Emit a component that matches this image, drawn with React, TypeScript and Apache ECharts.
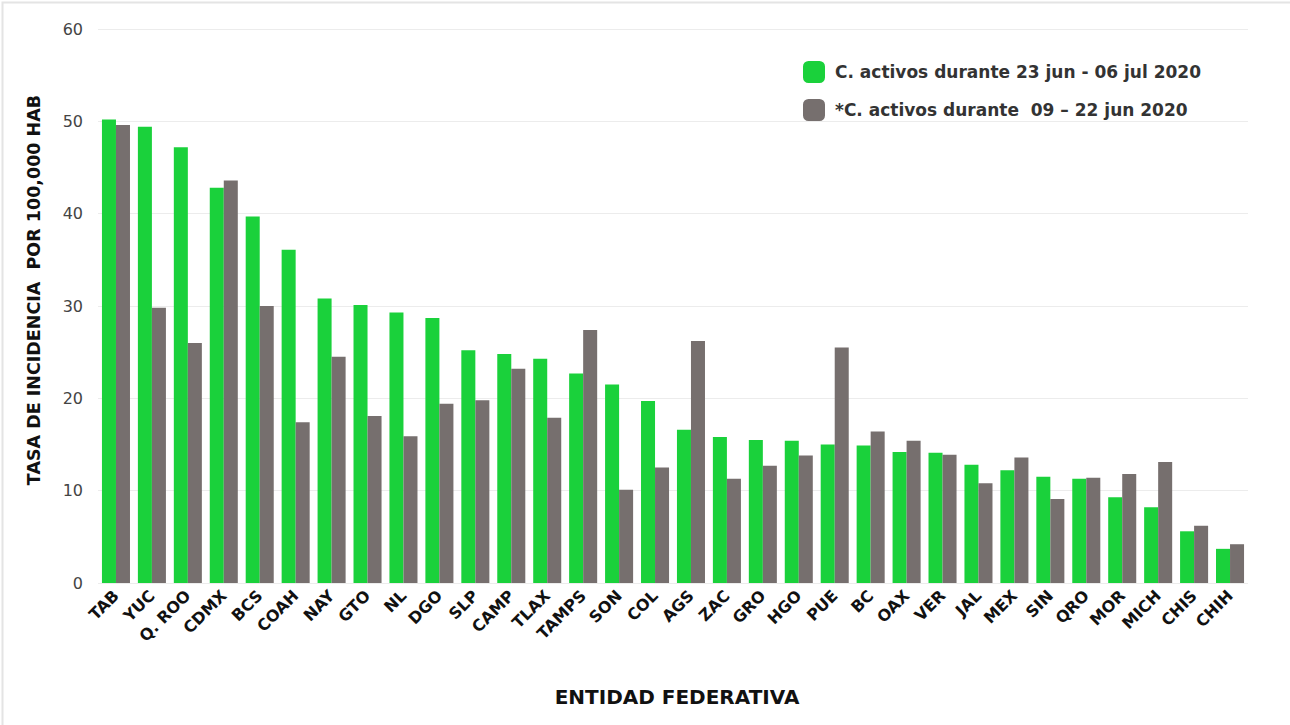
import React, { useEffect, useRef } from "react";
import * as echarts from "echarts";

const categories = ["TAB","YUC","Q. ROO","CDMX","BCS","COAH","NAY","GTO","NL","DGO","SLP","CAMP","TLAX","TAMPS","SON","COL","AGS","ZAC","GRO","HGO","PUE","BC","OAX","VER","JAL","MEX","SIN","QRO","MOR","MICH","CHIS","CHIH"];
const current = [50.2,49.4,47.2,42.8,39.7,36.1,30.8,30.1,29.3,28.7,25.2,24.8,24.3,22.7,21.5,19.7,16.6,15.8,15.5,15.4,15.0,14.9,14.2,14.1,12.8,12.2,11.5,11.3,9.3,8.2,5.6,3.7];
const previous = [49.6,29.8,26.0,43.6,30.0,17.4,24.5,18.1,15.9,19.4,19.8,23.2,17.9,27.4,10.1,12.5,26.2,11.3,12.7,13.8,25.5,16.4,15.4,13.9,10.8,13.6,9.1,11.4,11.8,13.1,6.2,4.2];
const seriesNames = ["C. activos durante 23 jun - 06 jul 2020", "*C. activos durante  09 \u2013 22 jun 2020"];
const yTicks = { min: 0, max: 60, interval: 10 };

const FONT = "'DejaVu Sans', sans-serif";

export default function App() {
  const ref = useRef<HTMLDivElement>(null);
  useEffect(() => {
    const chart = echarts.init(ref.current!, null, { renderer: "svg" });
    chart.setOption({
      animation: false,
      backgroundColor: "#ffffff",
      textStyle: { fontFamily: FONT },
      grid: { left: 98, right: 42, top: 29, bottom: 142, containLabel: false },
      legend: {
        orient: "vertical",
        left: 798,
        top: 56,
        itemWidth: 22,
        itemHeight: 22,
        itemGap: 16,
        icon: "roundRect",
        textStyle: { fontSize: 17, fontWeight: "bold", color: "#333333", fontFamily: FONT, padding: [0, 0, 0, 5] },
        data: seriesNames,
      },
      xAxis: {
        type: "category",
        data: categories,
        axisLine: { show: false },
        axisTick: { show: false },
        axisLabel: {
          rotate: 45,
          interval: 0,
          margin: 10,
          color: "#111111",
          fontWeight: "bold",
          fontSize: 16,
          fontFamily: FONT,
        },
      },
      yAxis: {
        type: "value",
        min: yTicks.min,
        max: yTicks.max,
        interval: yTicks.interval,
        axisLine: { show: false },
        axisTick: { show: false },
        splitLine: { lineStyle: { color: "#ececec", width: 1 } },
        axisLabel: { color: "#444444", fontSize: 16, margin: 15, fontFamily: FONT },
      },
      series: [
        {
          name: seriesNames[0],
          type: "bar",
          data: current,
          barGap: "0%",
          barCategoryGap: "22%",
          itemStyle: { color: "#1ad13b" },
        },
        {
          name: seriesNames[1],
          type: "bar",
          data: previous,
          barGap: "0%",
          barCategoryGap: "22%",
          itemStyle: { color: "#766f6e" },
        },
      ],
      graphic: [
        {
          type: "rect",
          left: 0,
          top: 0,
          shape: { width: 1289, height: 724 },
          style: { fill: "none", stroke: "#e4e4e4", lineWidth: 2 },
          silent: true,
          z: 100,
        },
        {
          type: "text",
          x: 34,
          y: 290,
          rotation: Math.PI / 2,
          style: {
            text: "TASA DE INCIDENCIA  POR 100,000 HAB",
            fontSize: 17.5,
            fontWeight: "bold",
            fill: "#111111",
            fontFamily: FONT,
            align: "center",
            verticalAlign: "middle",
          },
        },
        {
          type: "text",
          x: 677,
          y: 697,
          style: {
            text: "ENTIDAD FEDERATIVA",
            fontSize: 20,
            fontWeight: "bold",
            fill: "#111111",
            fontFamily: FONT,
            align: "center",
            verticalAlign: "middle",
          },
        },
      ],
    });
    return () => chart.dispose();
  }, []);
  return (
    <div
      ref={ref}
      style={{ position: "fixed", left: 0, top: 0, width: 1290, height: 725 }}
    />
  );
}
